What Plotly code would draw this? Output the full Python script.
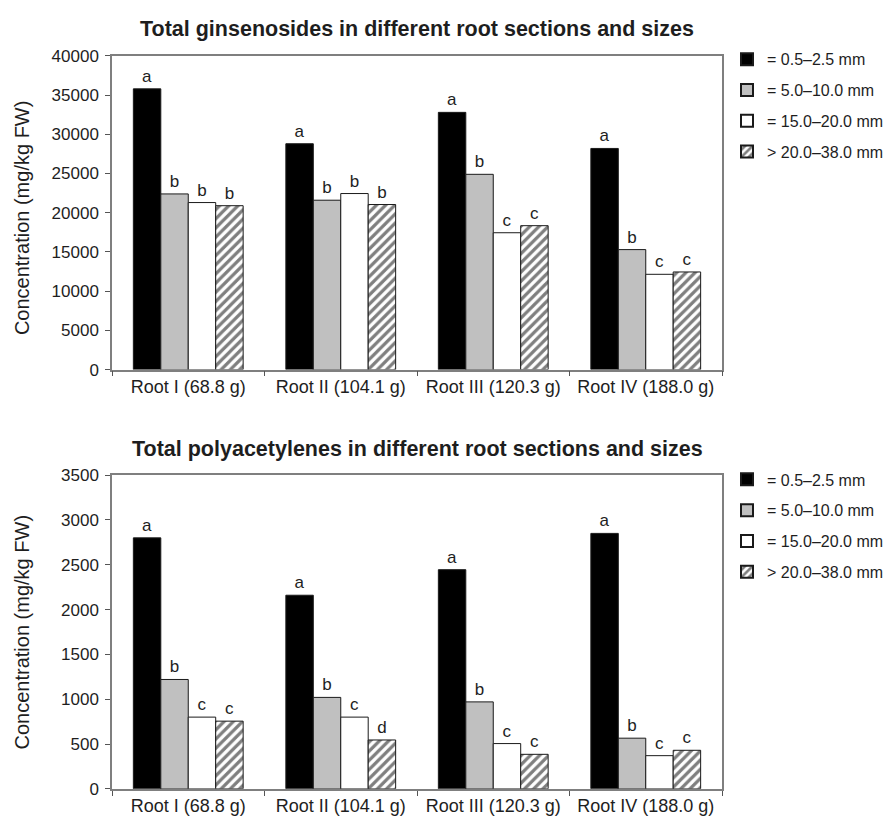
import plotly.graph_objects as go

roots = ["Root I (68.8 g)", "Root II (104.1 g)", "Root III (120.3 g)", "Root IV (188.0 g)"]
sizes = ["= 0.5\u20132.5 mm", "= 5.0\u201310.0 mm", "= 15.0\u201320.0 mm", "> 20.0\u201338.0 mm"]

# Total ginsenosides (mg/kg FW)
gin_05_25 = [35800, 28800, 32800, 28200]
gin_5_10 = [22400, 21600, 24900, 15300]
gin_15_20 = [21300, 22450, 17450, 12150]
gin_20_38 = [20900, 21050, 18350, 12450]
gin_letters_05_25 = ["a", "a", "a", "a"]
gin_letters_5_10 = ["b", "b", "b", "b"]
gin_letters_15_20 = ["b", "b", "c", "c"]
gin_letters_20_38 = ["b", "b", "c", "c"]

# Total polyacetylenes (mg/kg FW)
poly_05_25 = [2800, 2160, 2445, 2850]
poly_5_10 = [1220, 1020, 970, 565]
poly_15_20 = [800, 800, 505, 370]
poly_20_38 = [755, 545, 385, 430]
poly_letters_05_25 = ["a", "a", "a", "a"]
poly_letters_5_10 = ["b", "b", "b", "b"]
poly_letters_15_20 = ["c", "c", "c", "c"]
poly_letters_20_38 = ["c", "d", "c", "c"]

FONT = "Liberation Sans, Arial, sans-serif"
TXT = "#1e1e1e"
outline = dict(color="#1a1a1a", width=1)
styles = [
    dict(color="#000000", line=outline),
    dict(color="#c0c0c0", line=outline),
    dict(color="#ffffff", line=outline),
    dict(color="#ffffff", line=outline,
         pattern=dict(shape="/", fgcolor="#000000", bgcolor="#ffffff", size=6.5, solidity=0.5)),
]

fig = go.Figure()

top_series = [gin_05_25, gin_5_10, gin_15_20, gin_20_38]
top_letters = [gin_letters_05_25, gin_letters_5_10, gin_letters_15_20, gin_letters_20_38]
bot_series = [poly_05_25, poly_5_10, poly_15_20, poly_20_38]
bot_letters = [poly_letters_05_25, poly_letters_5_10, poly_letters_15_20, poly_letters_20_38]

for i in range(4):
    fig.add_trace(go.Bar(
        x=roots, y=top_series[i], name=sizes[i], marker=styles[i],
        text=top_letters[i], textposition="outside",
        textfont=dict(family=FONT, size=17, color=TXT),
        xaxis="x", yaxis="y", legend="legend", legendgroup="t%d" % i,
        cliponaxis=False,
    ))
for i in range(4):
    fig.add_trace(go.Bar(
        x=roots, y=bot_series[i], name=sizes[i], marker=styles[i],
        text=bot_letters[i], textposition="outside",
        textfont=dict(family=FONT, size=17, color=TXT),
        xaxis="x2", yaxis="y2", legend="legend2", legendgroup="b%d" % i,
        cliponaxis=False,
    ))

W, H = 891, 834
def px_x(v):
    return v / W
def px_y(v):
    return 1 - v / H

xl, xr = px_x(112), px_x(722)
yaxcommon = dict(showline=True, linecolor="#7f7f7f", linewidth=1.5, mirror=True,
                 ticks="outside", ticklen=5, tickcolor="#555", ticklabelstandoff=3,
                 tickfont=dict(family=FONT, size=17, color=TXT), showgrid=False, zeroline=False)
xaxcommon = dict(showline=True, linecolor="#7f7f7f", linewidth=1.5, mirror=True,
                 ticks="outside", ticklen=5, tickcolor="#555",
                 tickfont=dict(family=FONT, size=18, color=TXT), showgrid=False, zeroline=False)

legcommon = dict(font=dict(family=FONT, size=16, color=TXT), bgcolor="rgba(0,0,0,0)",
                 tracegroupgap=7, xanchor="left", yanchor="top", traceorder="grouped",
                 itemsizing="constant")

fig.update_layout(
    width=W, height=H, margin=dict(l=0, r=0, t=0, b=0),
    paper_bgcolor="white", plot_bgcolor="white",
    barmode="group", bargap=0.28, bargroupgap=0,
    font=dict(family=FONT),
    xaxis=dict(domain=[xl, xr], anchor="y", tickson="boundaries", **xaxcommon),
    yaxis=dict(domain=[px_y(369), px_y(48)], anchor="x", range=[0, 40000], dtick=5000,
               tickformat="d", **yaxcommon),
    xaxis2=dict(domain=[xl, xr], anchor="y2", tickson="boundaries", **xaxcommon),
    yaxis2=dict(domain=[px_y(798), px_y(477)], anchor="x2", range=[0, 3500], dtick=500,
                tickformat="d", **yaxcommon),
    legend=dict(x=px_x(727), y=px_y(34), **legcommon),
    legend2=dict(x=px_x(727), y=px_y(464), **legcommon),
    annotations=[
        dict(text="<b>Total ginsenosides in different root sections and sizes</b>",
             x=(xl + xr) / 2, y=px_y(20), xref="paper", yref="paper", showarrow=False,
             font=dict(family=FONT, size=21.5, color=TXT), xanchor="center", yanchor="middle"),
        dict(text="<b>Total polyacetylenes in different root sections and sizes</b>",
             x=(xl + xr) / 2, y=px_y(450), xref="paper", yref="paper", showarrow=False,
             font=dict(family=FONT, size=21.5, color=TXT), xanchor="center", yanchor="middle"),
        dict(text="Concentration (mg/kg FW)", textangle=-90,
             x=px_x(22), y=px_y(214), xref="paper", yref="paper", showarrow=False,
             font=dict(family=FONT, size=20, color=TXT), xanchor="center", yanchor="middle"),
        dict(text="Concentration (mg/kg FW)", textangle=-90,
             x=px_x(22), y=px_y(638), xref="paper", yref="paper", showarrow=False,
             font=dict(family=FONT, size=20, color=TXT), xanchor="center", yanchor="middle"),
    ],
)

fig.write_html("out.html", config={"displayModeBar": False},
               post_script="document.body.style.margin='0';")
